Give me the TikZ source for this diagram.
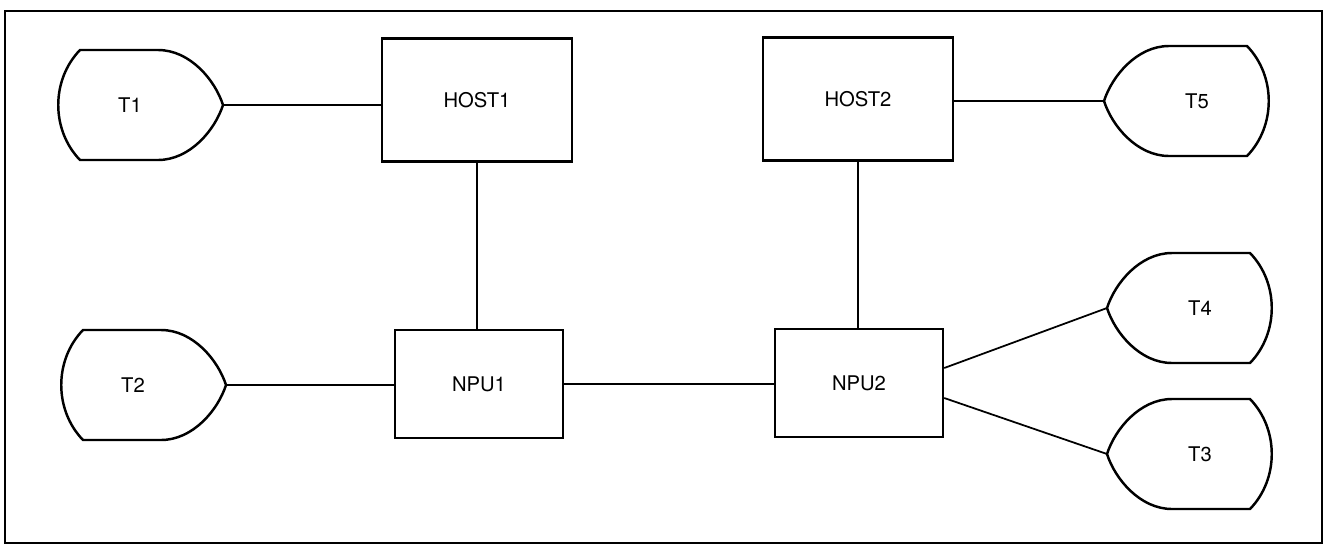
\documentclass[tikz,border=0pt]{standalone}
\usepackage{fontspec}
\setmainfont{TeX Gyre Heros}
\usetikzlibrary{calc}

% 终端符号: 名称, x, y, 朝向 (1 = 尖端向右, -1 = 尖端向左)
\newcommand{\terminal}[4]{%
	\node[termlabel] (#1) at (#2,#3) {#1};
	\begin{scope}[shift={(#1.center)}, xscale=#4]
		\draw[termline] (-50,-55) -- (28,-55)
			.. controls (60,-55) and (85,-25) .. (93,0)
			.. controls (85,25) and (60,55) .. (28,55)
			-- (-50,55)
			.. controls (-79,25) and (-79,-25) .. cycle;
		\coordinate (#1-tip) at (93,0);
	\end{scope}}

\begin{document}
\begin{tikzpicture}[
		x=0.02cm, y=-0.02cm,
		font=\fontsize{11.5}{13}\selectfont,
		line/.style={black, line width=1pt},
		frame/.style={black, line width=1.4pt},
		termline/.style={black, line width=1.4pt, line join=round},
		termlabel/.style={inner sep=0pt},
		box/.style={draw, rectangle, line width=1.4pt, inner sep=0pt},
		host/.style={box, minimum width=3.8cm, minimum height=2.46cm},
		npu/.style={box, minimum width=3.36cm, minimum height=2.16cm}
		]
		
		\useasboundingbox (0,0) rectangle (1324,548);
		
		% 外框
		\draw[frame] (5,11) rectangle (1322,543);
		
		% 主机与前端处理器
		\node[host] (HOST1) at (477,100) {HOST1};
		\node[host] (HOST2) at (858,99) {HOST2};
		\node[npu] (NPU1) at (479,384) {NPU1};
		\node[npu] (NPU2) at (859,383) {NPU2};
		
		% 终端
		\terminal{T1}{130}{105}{1}
		\terminal{T2}{133}{385}{1}
		\terminal{T5}{1197}{101}{-1}
		\terminal{T4}{1200}{308}{-1}
		\terminal{T3}{1200}{454}{-1}
		
		% 连线
		\draw[line] (T1-tip) -- (T1-tip -| HOST1.west);
		\draw[line] (T2-tip) -- (T2-tip -| NPU1.west);
		\draw[line] (HOST1.south) -- (HOST1.south |- NPU1.north);
		\draw[line] (HOST2.south) -- (HOST2.south |- NPU2.north);
		\draw[line] (NPU1.east) -- (NPU1.east -| NPU2.west);
		\draw[line] (T5-tip -| HOST2.east) -- (T5-tip);
		\draw[line] ([yshift=0.3cm]NPU2.east) -- (T4-tip);
		\draw[line] ([yshift=-0.3cm]NPU2.east) -- (T3-tip);
		
	\end{tikzpicture}
\end{document}
